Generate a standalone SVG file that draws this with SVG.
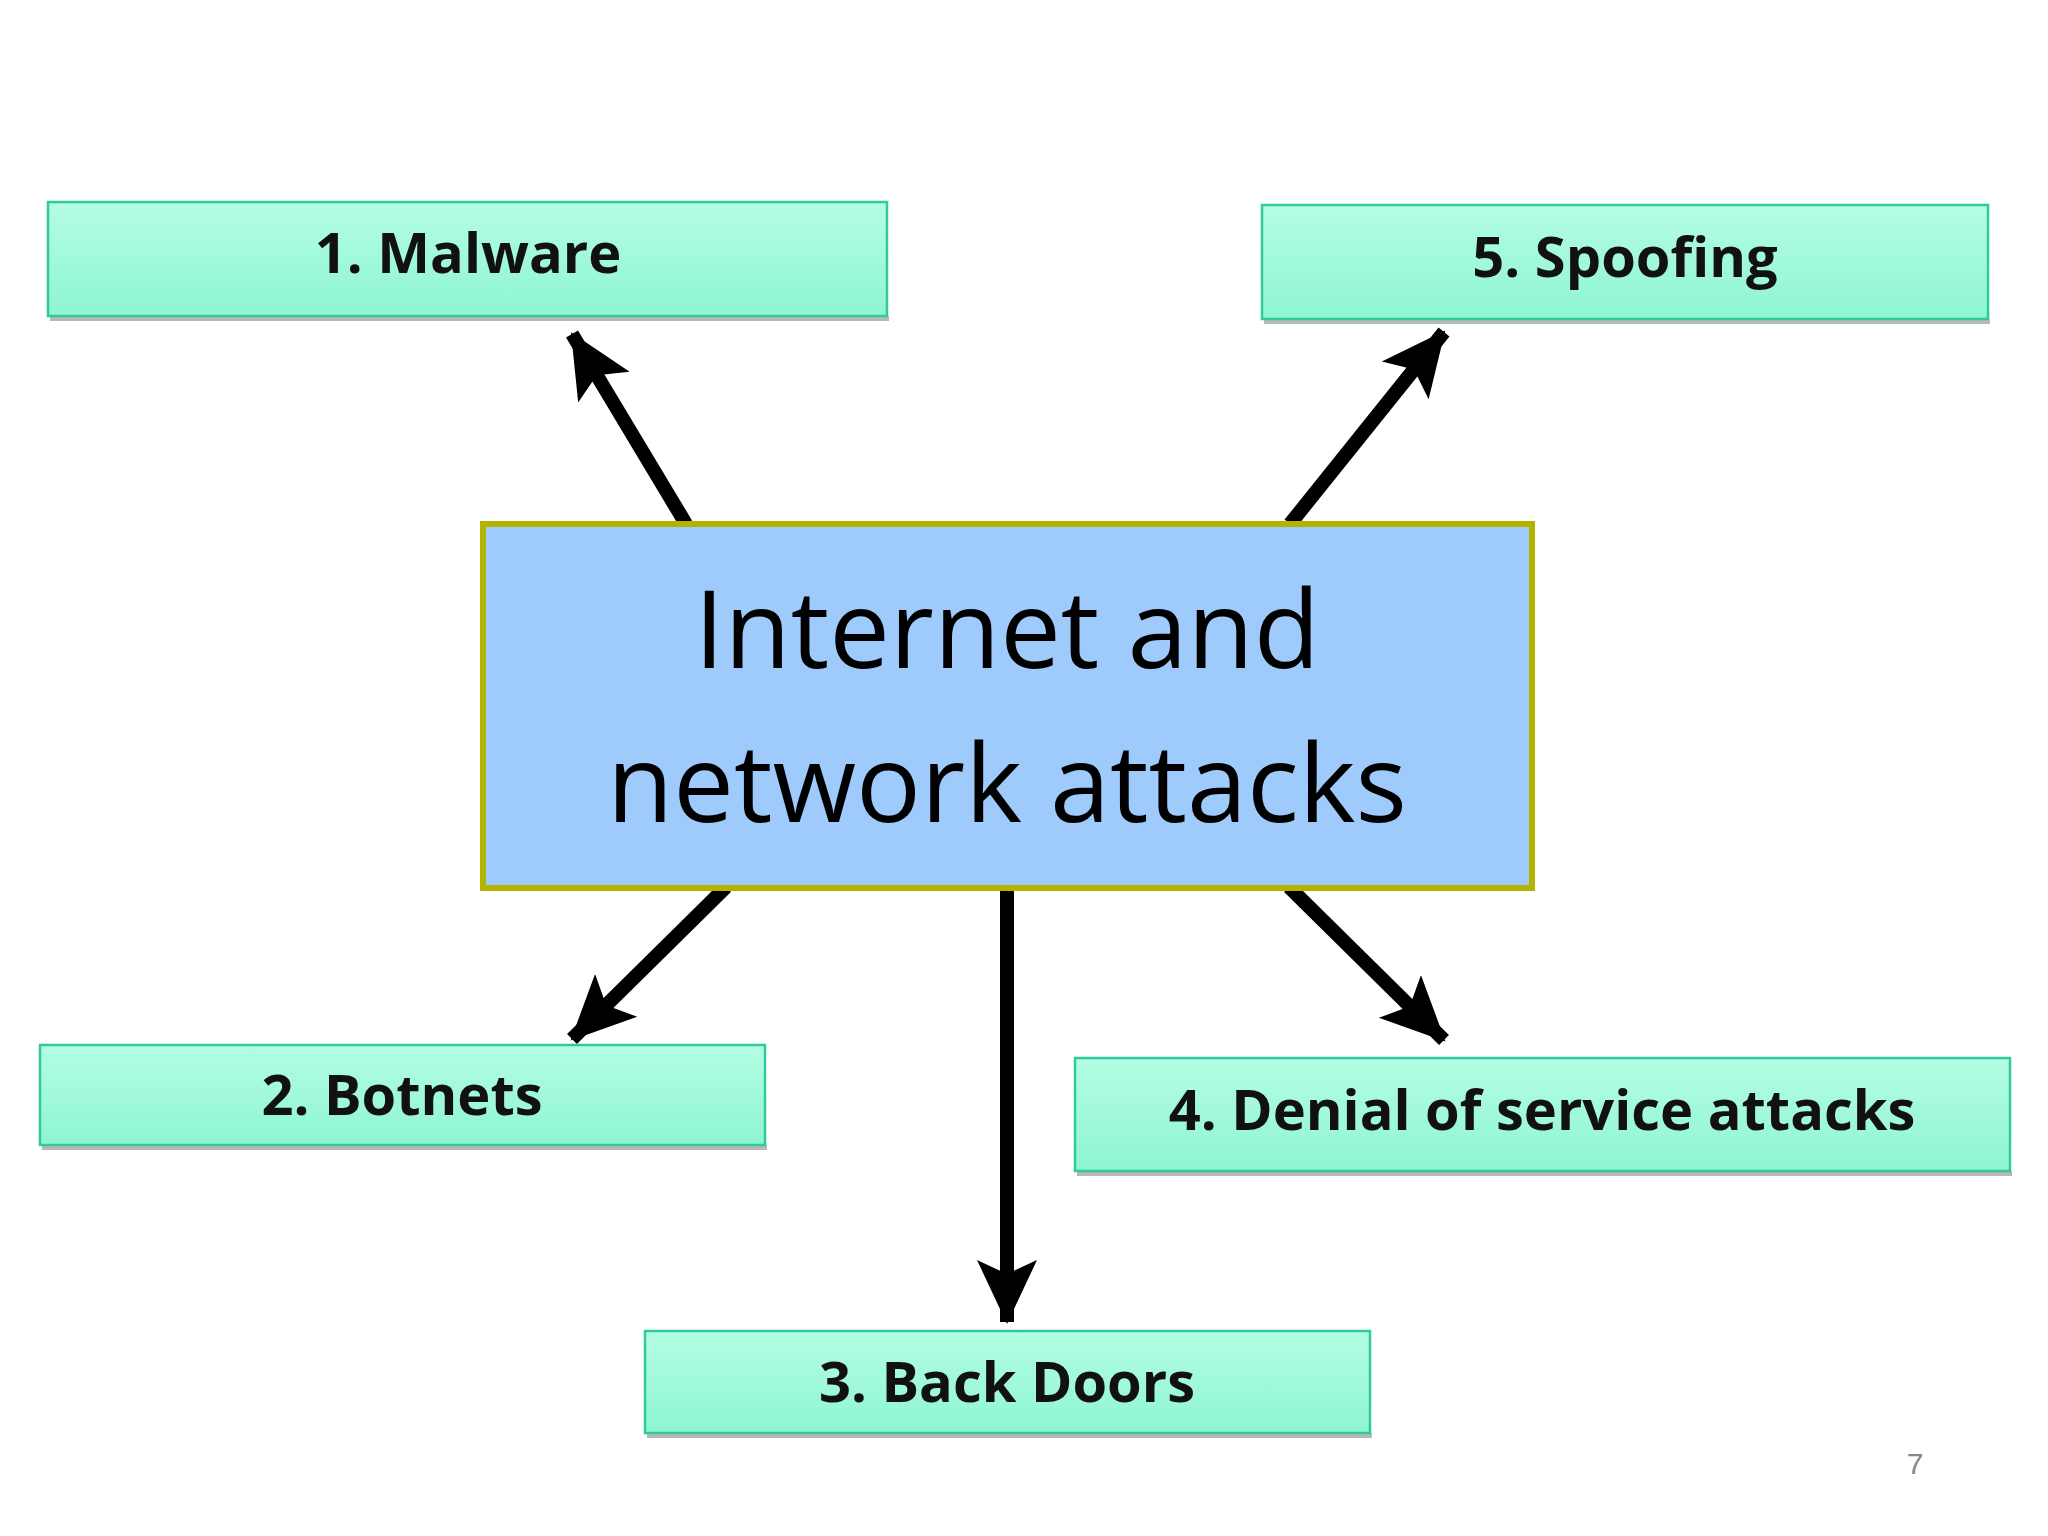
<svg xmlns="http://www.w3.org/2000/svg" width="2048" height="1536" viewBox="0 0 2048 1536">
<style>
.box{fill:url(#g);stroke:#33c9a0;stroke-width:2.5}
.sh{fill:#b8b8b8}
.lbl{font-family:"Open Sans","Noto Sans",sans-serif;font-weight:bold;font-size:56px;fill:#111;text-anchor:middle}
.c{stroke:#000;stroke-width:14;fill:none;marker-end:url(#ah)}
</style>
<defs>
<linearGradient id="g" x1="0" y1="0" x2="0" y2="1"><stop offset="0" stop-color="#b4fde3"/><stop offset="1" stop-color="#8ef5d2"/></linearGradient>
<marker id="ah" markerUnits="userSpaceOnUse" markerWidth="70" markerHeight="70" viewBox="0 0 70 70" refX="62" refY="35" orient="auto"><path d="M0,5 L64,35 L0,65 L14,35 Z" fill="#000"/></marker>
</defs>
<rect width="2048" height="1536" fill="#fff"/>
<g id="connectors">
<line class="c" x1="686" y1="524" x2="572" y2="334"/>
<line class="c" x1="1290" y1="524" x2="1444" y2="332"/>
<line class="c" x1="726" y1="887" x2="572" y2="1039"/>
<line class="c" x1="1007" y1="888" x2="1007" y2="1322"/>
<line class="c" x1="1289" y1="887" x2="1444" y2="1040"/>
</g>
<g id="center">
<rect x="483" y="524" width="1049" height="364" fill="#9ecbfb" stroke="#b5b200" stroke-width="6"/>
<text x="1007" y="668" font-family="Open Sans,Noto Sans,sans-serif" font-size="108" fill="#000" text-anchor="middle">Internet and</text>
<text x="1007" y="822" font-family="Open Sans,Noto Sans,sans-serif" font-size="108" fill="#000" text-anchor="middle">network attacks</text>
</g>
<g id="malware"><rect class="sh" x="50" y="316" width="839" height="5"/><rect class="box" x="48" y="202" width="839" height="114"/><text class="lbl" x="468" y="273">1. Malware</text></g>
<g id="spoofing"><rect class="sh" x="1264" y="319" width="726" height="5"/><rect class="box" x="1262" y="205" width="726" height="114"/><text class="lbl" x="1625" y="277">5. Spoofing</text></g>
<g id="botnets"><rect class="sh" x="42" y="1145" width="725" height="5"/><rect class="box" x="40" y="1045" width="725" height="100"/><text class="lbl" x="402" y="1115">2. Botnets</text></g>
<g id="denial"><rect class="sh" x="1077" y="1171" width="935" height="5"/><rect class="box" x="1075" y="1058" width="935" height="113"/><text class="lbl" x="1542" y="1130">4. Denial of service attacks</text></g>
<g id="backdoors"><rect class="sh" x="647" y="1433" width="725" height="5"/><rect class="box" x="645" y="1331" width="725" height="102"/><text class="lbl" x="1007" y="1402">3. Back Doors</text></g>
<text x="1915" y="1474" font-family="Liberation Sans,sans-serif" font-size="30" fill="#888" text-anchor="middle">7</text>
</svg>
